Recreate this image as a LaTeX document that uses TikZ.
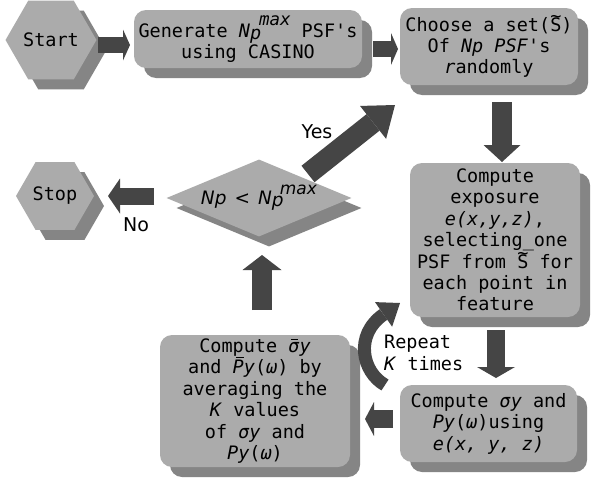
\documentclass[tikz,border=0pt]{standalone}
\usepackage{fontspec}
\setmainfont{DejaVu Sans}
\setmonofont{DejaVu Sans Mono}
\usetikzlibrary{shapes.geometric,shadows,arrows.meta}
\definecolor{boxfill}{HTML}{ABABAB}
\definecolor{boxshadow}{HTML}{858585}
\definecolor{arrowc}{HTML}{454545}
\newcommand\boxfont{\fontsize{18.5}{21.4}\selectfont\ttfamily}
\newcommand\npmax{\textit{N}\rlap{\raisebox{-2pt}{\textit{p}}}\kern 9pt\raisebox{12pt}{\fontsize{17.5}{18}\selectfont\textit{max}}}
\newcommand\npmaxsans{\textit{N}\rlap{\raisebox{-2pt}{\textit{p}}}\kern 8pt\raisebox{10pt}{\fontsize{17}{18}\selectfont\textit{max}}}
\newcommand\tildeS{\rlap{\raisebox{0.48em}{\makebox[0.602em]{\char`\~}}}S}
\newcommand\barsigma{\rlap{\kern0.16em\rule[0.66em]{0.38em}{0.07em}}\textit{σ}}
\newcommand\barP{\rlap{\kern0.2em\rule[0.86em]{0.4em}{0.07em}}\textit{P}}
\tikzset{
  shad/.style={drop shadow={shadow xshift=10pt, shadow yshift=-10pt, fill=boxshadow, opacity=1}},
  stepbox/.style={shad, fill=boxfill, rounded corners=12pt, inner sep=0pt, align=center, font=\boxfont},
  hexa/.style={shad, fill=boxfill, regular polygon, regular polygon sides=6, inner sep=0pt, font=\boxfont},
  decision/.style={shad, fill=boxfill, diamond, aspect=2.4, inner sep=0pt},
  blk/.style n args={3}{draw=arrowc, line width=#1, -{Triangle[length=#2, width=#3, line width=0pt]}},
  lbl/.style={font=\fontsize{19}{22}\selectfont\rmfamily}
}
\begin{document}
\begin{tikzpicture}[x=1pt, y=-1pt]
\fill[white] (0,0) rectangle (592,479);
\useasboundingbox (0,0) rectangle (592,479);

% nodes
\node[hexa, minimum size=80pt] (start) at (51,40) {Start};
\node[stepbox, minimum width=228pt, minimum height=58pt] (gen) at (248,39)
  {Generate \npmax{} PSF's\\using CASINO};
\node[stepbox, minimum width=178pt, minimum height=77pt] (choose) at (489,46.5)
  {Choose a set(\tildeS)\\Of \textit{Np PSF}'s\\\textit{r}andomly};
\node[stepbox, minimum width=170pt, minimum height=154pt] (expo) at (495,240)
  {Compute\\exposure\\ \textit{e(x,y,z)},\\selecting\_one\\PSF from \tildeS{} for\\each point in\\feature};
\node[stepbox, minimum width=177pt, minimum height=77pt] (sig) at (488.5,423.5)
  {Compute \textit{σy} and\\\textit{Py}(\textit{ω})using\\\textit{e(x, y, z)}};
\node[stepbox, minimum width=190pt, minimum height=132pt] (avg) at (255,401)
  {Compute \barsigma\textit{y}\\and \barP\textit{y}(\textit{ω}) by\\averaging the\\\textit{K} values\\of \textit{σy} and\\\textit{Py}(\textit{ω})};
\node[decision, minimum width=185pt, minimum height=77pt, font=\fontsize{18.5}{21}\selectfont\rmfamily] (dec) at (259,198)
  {\textit{Np}\hspace{8pt}<\hspace{8pt}\npmaxsans};
\node[hexa, minimum size=78pt] (stop) at (55,196) {Stop};

% labels
\node[lbl] (yes) at (317,132) {Yes};
\node[lbl] (no) at (136,225) {No};
\node[font=\boxfont, align=left, anchor=west, inner sep=0pt] (rep) at (384,353) {Repeat\\\textit{K} times};

% arrow end points
\coordinate (a1s) at (98,45);   \coordinate (a1e) at (130,45);
\coordinate (a2s) at (373,49);  \coordinate (a2e) at (398,49);
\coordinate (a3s) at (502,102); \coordinate (a3e) at (502,162);
\coordinate (a4s) at (496,330); \coordinate (a4e) at (496,378);
\coordinate (a5s) at (393,419); \coordinate (a5e) at (365,419);
\coordinate (a6s) at (262,310); \coordinate (a6e) at (262,255);
\coordinate (a7s) at (308,174); \coordinate (a7e) at (395,105);
\coordinate (a8s) at (154,196); \coordinate (a8e) at (108,196);
\coordinate (r1) at (385,385);  \coordinate (r2) at (400,303);

% arrows
\draw[blk={16pt}{7pt}{31pt}] (a1s) -- (a1e);
\draw[blk={16pt}{7pt}{32pt}] (a2s) -- (a2e);
\draw[blk={20pt}{17pt}{37pt}] (a3s) -- (a3e);
\draw[blk={18pt}{11pt}{38pt}] (a4s) -- (a4e);
\draw[blk={18pt}{9pt}{34pt}] (a5s) -- (a5e);
\draw[blk={20pt}{15pt}{39pt}] (a6s) -- (a6e);
\draw[blk={21pt}{28pt}{42pt}] (a7s) -- (a7e);
\draw[blk={17pt}{12pt}{35pt}] (a8s) -- (a8e);
\draw[blk={13pt}{20pt}{30pt}] (r1) .. controls (362,372) and (354,335) .. (r2);
\end{tikzpicture}
\end{document}
